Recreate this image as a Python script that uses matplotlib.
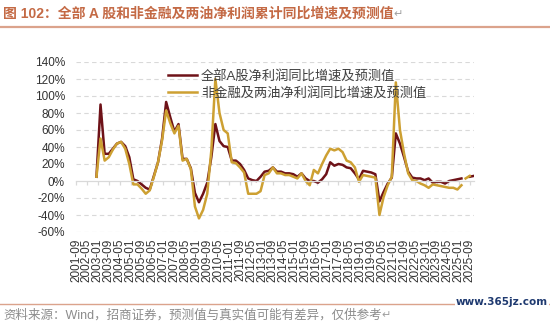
import matplotlib.pyplot as plt
from matplotlib.lines import Line2D
import pandas as pd

plt.rcParams['font.family'] = ['Liberation Sans', 'Noto Sans CJK SC', 'DejaVu Sans']

# 季度数据 2002-12 ~ 2025-03
dates = pd.date_range('2002-12-01', '2025-03-01', freq='3MS')

all_a = [5,
         90, 32, 32, 38,
         44, 46, 41, 28,
         2, 0, -4, -8,
         -10, 6, 22, 50,
         93, 75, 58, 67,
         26, 26, 15, -14,
         -25, -15, -2, 28,
         67, 47, 41, 40,
         24, 24, 20, 13,
         3, 1, 0, 5,
         11, 12, 16, 11,
         11, 9, 9, 8,
         5, 9, 3, 0,
         0, -2, 2, 8,
         22, 18, 20, 19,
         16, 15, 9, 2,
         12, 11, 10, 8,
         -24, -13, -3, 4,
         56, 44, 28, 11,
         4, 3, 3, 1,
         3, -2, -1, -1,
         -3, 0, 1, 2,
         3]

non_fin = [5,
           50, 24, 28, 37,
           44, 46, 38, 20,
           -4, -4, -9, -15,
           -11, 5, 22, 48,
           83, 68, 56, 65,
           24, 26, 14, -30,
           -44, -34, -15, 36,
           120, 80, 60, 56,
           22, 21, 16, 10,
           -15, -15, -15, -12,
           7, 9, 16, 9,
           9, 7, 7, 5,
           3, 9, 0, -5,
           13, 9, 20, 30,
           38, 36, 38, 34,
           24, 22, 16, -1,
           7, 6, 5, 4,
           -40, -19, -5, 5,
           116, 60, 32, 9,
           1, 0, -3, -5,
           -8, -4, -5, -6,
           -7, -8, -8, -10,
           -5]

# 预测值
all_a_fc_dates = pd.to_datetime(['2025-09-01', '2025-12-01'])
all_a_fc = [5, 6]
non_fin_fc_dates = pd.to_datetime(['2025-06-01', '2025-09-01'])
non_fin_fc = [3, 6]

tick_dates = pd.date_range('2001-09-01', '2025-09-01', freq='8MS')
tick_labels = [d.strftime('%Y-%m') for d in tick_dates]

c_dark = '#6E1218'
c_gold = '#CDA032'
txt = '#333333'

fig = plt.figure(figsize=(5.5, 3.24), dpi=100)
ax = fig.add_axes([76 / 550, 1 - 232 / 324, 397.8 / 550, 170 / 324])

ax.plot(dates, all_a, color=c_dark, lw=1.8, label='全部A股净利润同比增速及预测值')
ax.plot(dates, non_fin, color=c_gold, lw=1.8, label='非金融及两油净利润同比增速及预测值')
ax.plot(all_a_fc_dates, all_a_fc, color=c_dark, lw=1.8)
ax.plot(non_fin_fc_dates, non_fin_fc, color=c_gold, lw=1.8)

ax.set_ylim(-60, 140)
ax.set_yticks(range(-60, 141, 20))
ax.set_yticklabels([f'{v}%' for v in range(-60, 141, 20)])
ax.set_xlim(pd.Timestamp('2001-09-01'), pd.Timestamp('2025-12-01'))

for v in range(-60, 141, 20):
    if v != 0:
        ax.axhline(v, color='#D9D9D9', lw=0.8, ls=(0, (4, 3)), zorder=0)

for s in ['left', 'right', 'top']:
    ax.spines[s].set_visible(False)
ax.spines['bottom'].set_position(('data', 0))
ax.spines['bottom'].set_color('#D9D9D9')
ax.spines['bottom'].set_linewidth(0.9)
ax.set_xticks(tick_dates)
ax.tick_params(axis='x', labelbottom=False, length=3, color='#D9D9D9', width=0.9)
ax.tick_params(axis='y', length=0, pad=8, labelsize=8.5, labelcolor=txt)

# 日期标签放在图底部
sec = ax.secondary_xaxis(0)
sec.set_xticks(tick_dates)
sec.set_xticklabels(tick_labels, rotation=90)
sec.spines['bottom'].set_visible(False)
sec.tick_params(axis='x', length=0, pad=5, labelsize=8.5, labelcolor=txt)

leg = ax.legend(loc='upper left', bbox_to_anchor=((168 - 76) / 397.8, 0.955),
                frameon=False, fontsize=9.5, handlelength=2.2, handletextpad=0.3,
                labelspacing=0.35, borderpad=0, borderaxespad=0)
for t in leg.get_texts():
    t.set_color('#404040')

# 标题与来源
title = fig.text(3 / 550, 1 - 14 / 324,
                 '图 102：全部 A 股和非金融及两油净利润累计同比增速及预测值',
                 color='#C46A45', fontsize=10, fontweight='bold', va='center')
ax.annotate('↵', xy=(1, 0.5), xycoords=title, va='center', ha='left',
            color='#A0A0A0', fontsize=8, family=['DejaVu Sans'])
fig.add_artist(Line2D([0, 1], [1 - 27 / 324] * 2, color='#DBA38C', lw=1.6))
fig.add_artist(Line2D([0, 1], [1 - 304 / 324] * 2, color='#DBA38C', lw=1.0))

src = fig.text(3 / 550, 1 - 315 / 324,
               '资料来源：Wind，招商证券，预测值与真实值可能有差异，仅供参考',
               color='#8C8C8C', fontsize=9, va='center')
ax.annotate('↵', xy=(1, 0.5), xycoords=src, va='center', ha='left',
            color='#A0A0A0', fontsize=8, family=['DejaVu Sans'])

fig.text(548 / 550, 1 - 302 / 324, 'www.365jz.com', ha='right', va='center',
         color='#1F3A70', fontsize=7.5, fontweight='bold', family=['DejaVu Sans'],
         bbox=dict(facecolor='white', edgecolor='none', pad=0.5))

fig.savefig('out.png', dpi=100)
